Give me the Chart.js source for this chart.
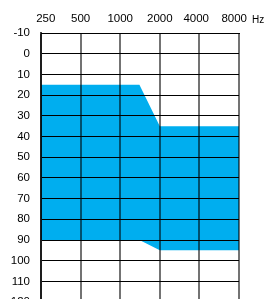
<!DOCTYPE html>
<html>
<head>
<meta charset="utf-8">
<script src="https://cdn.jsdelivr.net/npm/chart.js@4"></script>
<style>
  html, body { margin: 0; padding: 0; background: #fff; overflow: hidden; }
  #wrap { width: 265px; height: 320px; }
</style>
</head>
<body>
<div id="wrap"><canvas id="audiogram" width="265" height="320"></canvas></div>
<script>
/* ==============================
   Data
============================== */
const freqTicks  = [250, 500, 1000, 2000, 4000, 8000];          // Hz
const freqLabels = ['   250', '500', '1000', '2000', '4000  ', '8000   '];
const bandFreqs  = [250, 1400, 2000, 8000];                      // Hz
const upperDb    = [15, 15, 35, 35];                             // dB HL
const lowerDb    = [90, 90, 95, 95];                             // dB HL
const dbMin = -10, dbMax = 120, dbStep = 10;

const FONT = "'Liberation Sans', Arial, sans-serif";
const BLUE = '#00aeef';

/* ==============================
   Helpers
============================== */
const toPoints = (xs, ys) => xs.map((x, i) => ({ x: x, y: ys[i] }));

const hzLabel = {
    id: 'hzLabel',
    afterDraw(chart) {
        const c = chart.ctx;
        c.save();
        c.font = '10px ' + FONT;
        c.fillStyle = '#000';
        c.textBaseline = 'bottom';
        c.textAlign = 'left';
        c.fillText('Hz', chart.chartArea.right + 13, 25);
        c.restore();
    }
};

/* ==============================
   Chart
============================== */
const config = {
    type: 'line',
    data: {
        datasets: [
            {
                label: 'upper',
                data: toPoints(bandFreqs, upperDb),
                borderWidth: 0,
                pointRadius: 0,
                fill: false,
                tension: 0
            },
            {
                label: 'lower',
                data: toPoints(bandFreqs, lowerDb),
                borderWidth: 0,
                pointRadius: 0,
                fill: '-1',
                backgroundColor: BLUE,
                tension: 0
            }
        ]
    },
    options: {
        responsive: false,
        animation: false,
        layout: { padding: { left: 0, right: 26, top: 0, bottom: 17.5 } },
        plugins: { legend: { display: false }, tooltip: { enabled: false } },
        scales: {
            x: {
                type: 'logarithmic',
                position: 'top',
                min: freqTicks[0],
                max: freqTicks[freqTicks.length - 1],
                afterBuildTicks: s => { s.ticks = freqTicks.map(v => ({ value: v })); },
                afterFit: s => { s.height = 33; },
                grid: { color: 'rgba(0,0,0,0.55)', lineWidth: 2, drawTicks: false, z: 1 },
                border: { color: '#000', width: 1, z: 2 },
                ticks: {
                    autoSkip: false,
                    maxRotation: 0,
                    padding: 7,
                    color: '#000',
                    font: { family: FONT, size: 11.5 },
                    callback: (v, i) => freqLabels[i]
                }
            },
            y: {
                reverse: true,
                min: dbMin,
                max: dbMax,
                afterFit: s => { s.width = 41; },
                grid: { color: '#000', lineWidth: 1, drawTicks: false, z: 1 },
                border: { color: 'rgba(0,0,0,0.75)', width: 2, z: 2 },
                ticks: {
                    stepSize: dbStep,
                    padding: 11,
                    color: '#000',
                    font: { family: FONT, size: 11.5 }
                }
            }
        }
    },
    plugins: [hzLabel]
};

const ctx = document.getElementById('audiogram');
if (ctx) new Chart(ctx, config);
</script>
</body>
</html>
